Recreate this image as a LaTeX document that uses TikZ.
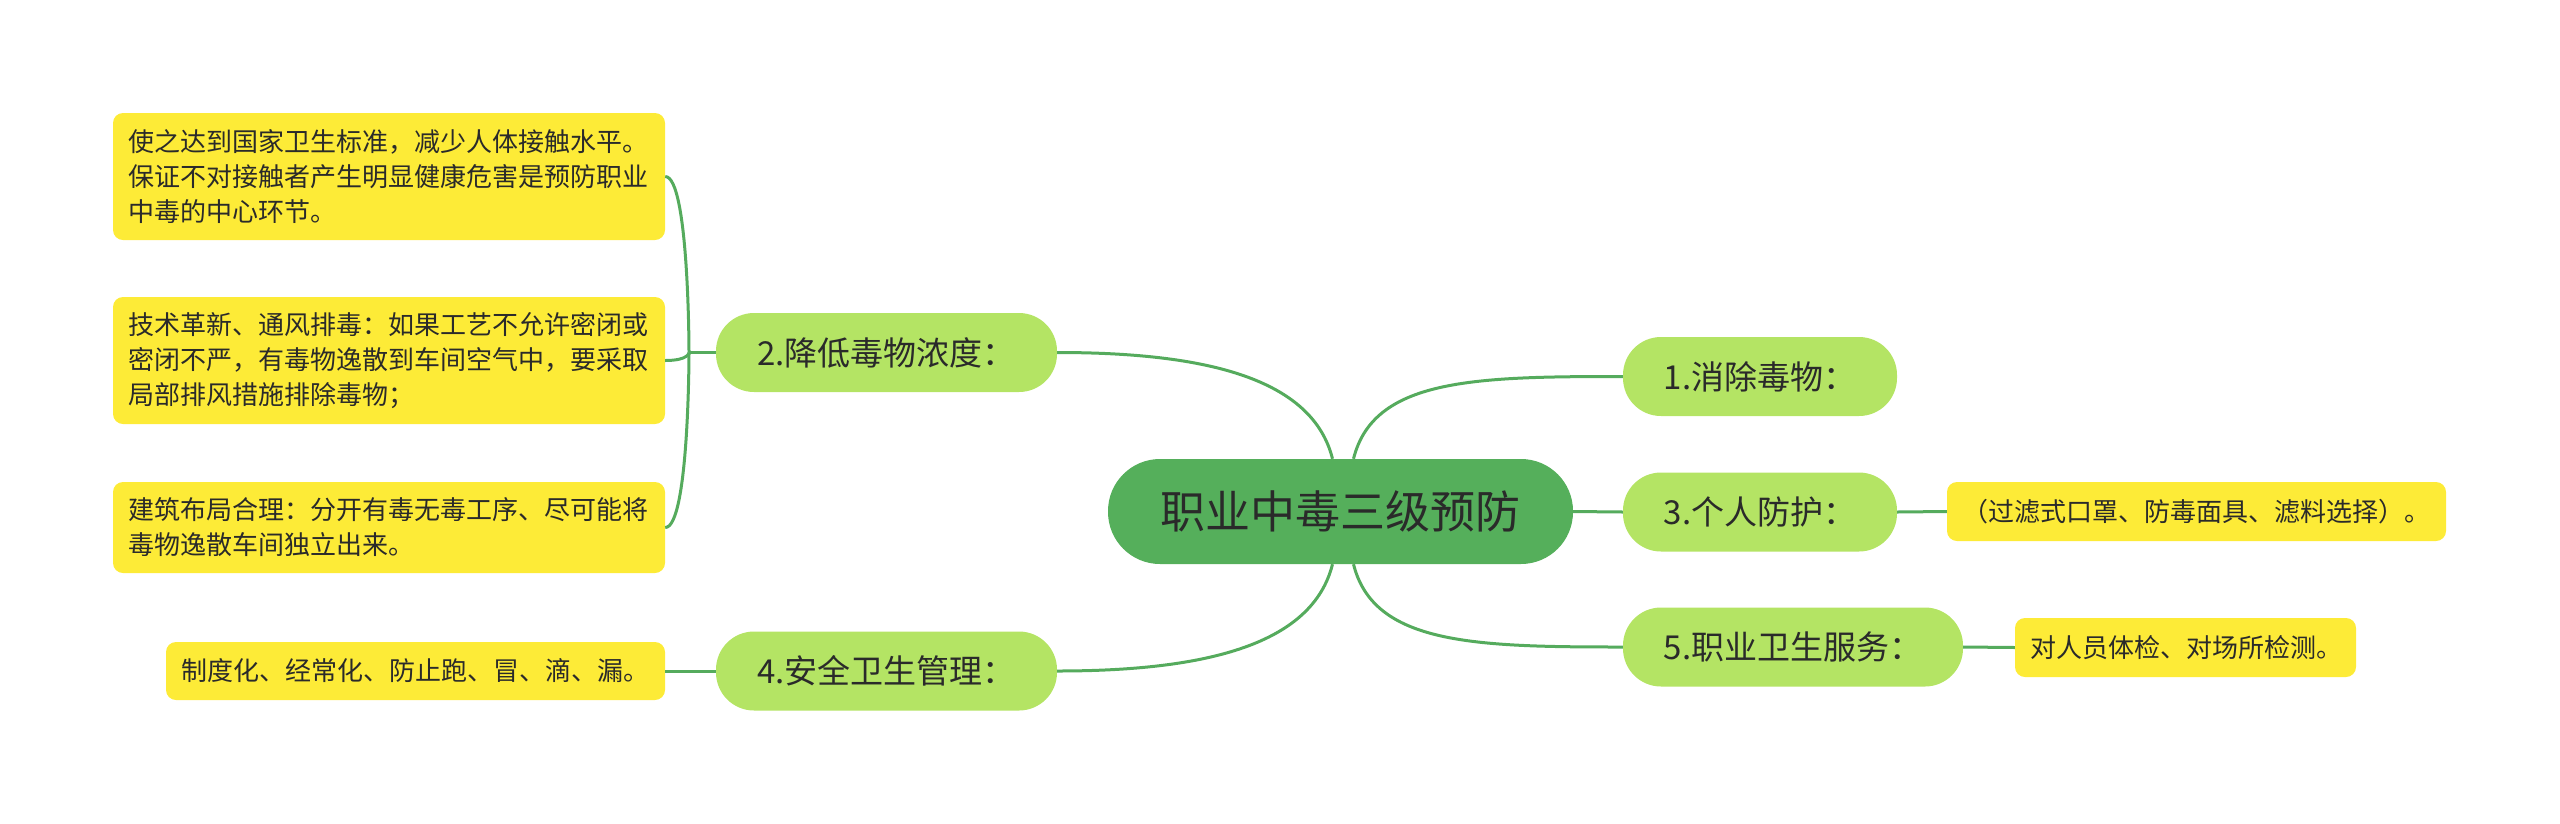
\documentclass[tikz,border=0pt]{standalone}
\usepackage{fontspec}
\setmainfont{Noto Sans CJK SC}
\definecolor{linegreen}{HTML}{55AB5D}
\definecolor{rootgreen}{HTML}{55AF5B}
\definecolor{lvgreen}{HTML}{B4E464}
\definecolor{leafyellow}{HTML}{FDEB37}
\definecolor{txt}{HTML}{2A2A2A}
\begin{document}
\begin{tikzpicture}[x=1pt,y=-1pt,
  leaf/.style={fill=leafyellow, rounded corners=10pt, inner xsep=15pt, inner ysep=0pt,
    align=left, font=\fontsize{26}{35}\selectfont, text=txt, anchor=center},
  lvone/.style={fill=lvgreen, rounded corners=38pt, minimum height=79pt, inner sep=0pt,
    font=\fontsize{33}{40}\selectfont, text=txt, anchor=center},
  rootnode/.style={fill=rootgreen, rounded corners=52pt, minimum width=465pt, minimum height=105pt,
    inner sep=0pt, font=\fontsize{45}{54}\selectfont, text=txt, anchor=center},
  conn/.style={draw=linegreen, line width=3pt}]
\useasboundingbox (0,0) rectangle (2560,823);

% root
\node[rootnode] (C) at (1340.5,511.5) {职业中毒三级预防};

% level one
\node[lvone, minimum width=341pt] (A2) at (886.5,352.5) {2.降低毒物浓度：};
\node[lvone, minimum width=341pt] (A4) at (886.5,671) {4.安全卫生管理：};
\node[lvone, minimum width=274pt] (A1) at (1760,376.5) {1.消除毒物：};
\node[lvone, minimum width=274pt] (A3) at (1760,512) {3.个人防护：};
\node[lvone, minimum width=340pt] (A5) at (1793,647) {5.职业卫生服务：};

% leaves
\node[leaf, text width=522pt, minimum height=127pt] (L1) at (389,176.5)
  {使之达到国家卫生标准，减少人体接触水平。\\保证不对接触者产生明显健康危害是预防职业\\中毒的中心环节。};
\node[leaf, text width=522pt, minimum height=127pt] (L2) at (389,360.5)
  {技术革新、通风排毒：如果工艺不允许密闭或\\密闭不严，有毒物逸散到车间空气中，要采取\\局部排风措施排除毒物；};
\node[leaf, text width=522pt, minimum height=91pt] (L3) at (389,527.5)
  {建筑布局合理：分开有毒无毒工序、尽可能将\\毒物逸散车间独立出来。};
\node[leaf, text width=469pt, minimum height=58pt] (L4) at (415.5,671)
  {制度化、经常化、防止跑、冒、滴、漏。};
\node[leaf, text width=469pt, minimum height=59pt] (R3) at (2196.5,511.5)
  {（过滤式口罩、防毒面具、滤料选择）。};
\node[leaf, text width=311pt, minimum height=59pt] (R5) at (2185.5,647.5)
  {对人员体检、对场所检测。};

% root connectors
\coordinate (CTL) at ([xshift=-8pt]C.north);
\coordinate (CTR) at ([xshift=13pt]C.north);
\coordinate (CBL) at ([xshift=-8pt]C.south);
\coordinate (CBR) at ([xshift=13pt]C.south);
\draw[conn] (CTL) .. controls +(-20,-80) and +(150,0) .. (A2.east);
\draw[conn] (CBL) .. controls +(-20,80) and +(150,0) .. (A4.east);
\draw[conn] (CTR) .. controls +(20,-80) and +(-150,0) .. (A1.west);
\draw[conn] (CBR) .. controls +(20,80) and +(-150,0) .. (A5.west);
\draw[conn] (C.east) -- (A3.west);

% bracket for A2
\coordinate (B) at (689,352.5);
\draw[conn] (A2.west) -- (B);
\draw[conn] (B) .. controls (689,352.5) and (689,176.5) .. (L1.east);
\draw[conn] (B) .. controls (689,352.5) and (689,360.5) .. (L2.east);
\draw[conn] (B) .. controls (689,352.5) and (689,527.5) .. (L3.east);

% other leaf connectors
\draw[conn] (A4.west) -- (L4.east);
\draw[conn] (A3.east) -- (R3.west);
\draw[conn] (A5.east) -- (R5.west);
\end{tikzpicture}
\end{document}
